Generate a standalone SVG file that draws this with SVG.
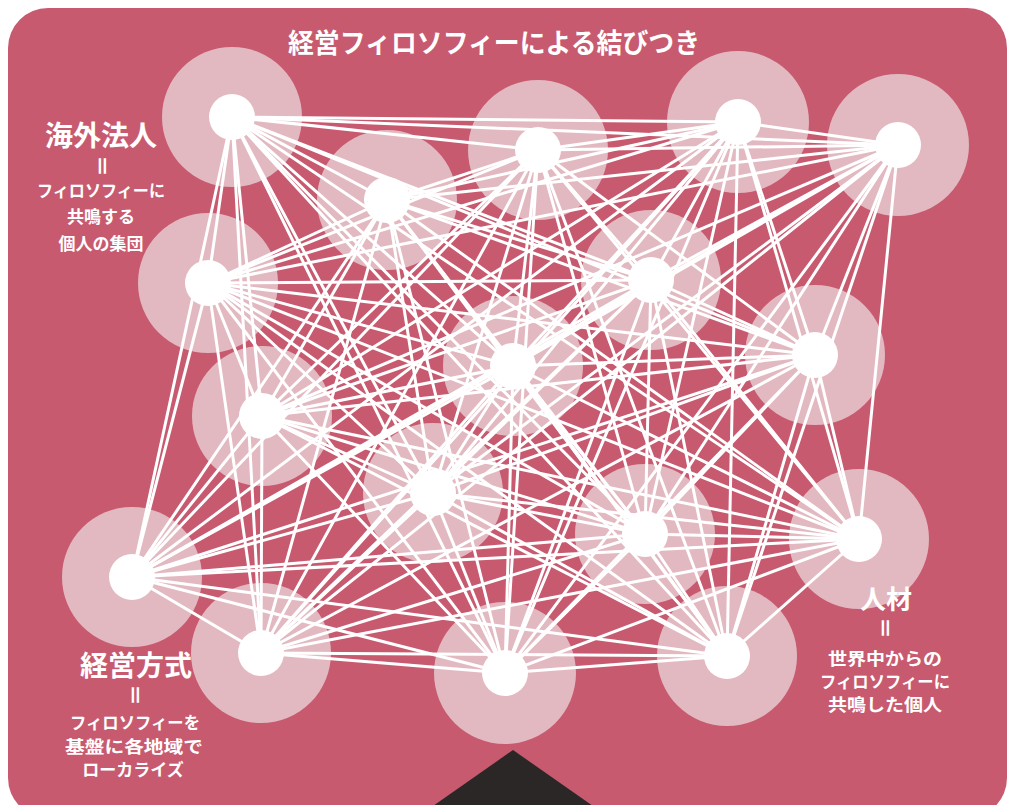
<svg xmlns="http://www.w3.org/2000/svg" width="1015" height="805" viewBox="0 0 1015 805">
<style>
.halo{fill:#e3b9c1}
.dot{fill:#ffffff}
#connectors line{stroke:#ffffff;stroke-width:3;stroke-linecap:round}
.t{fill:#ffffff;font-family:"Noto Sans CJK JP","Noto Sans",sans-serif;text-anchor:middle}
.big{font-size:28px;font-weight:700}
.title{font-size:27px;font-weight:700}
.small{font-size:17px;font-weight:700}
.eq{font-size:22px;font-weight:700}
</style>
<rect x="0" y="0" width="1015" height="805" fill="#ffffff"/>
<rect x="8" y="8" width="999" height="810" rx="40" fill="#c85a70"/>
<g id="halos">
<circle class="halo" cx="232" cy="117" r="70"/>
<circle class="halo" cx="387" cy="200" r="70"/>
<circle class="halo" cx="538" cy="150" r="70"/>
<circle class="halo" cx="738" cy="122" r="71"/>
<circle class="halo" cx="898" cy="145" r="71"/>
<circle class="halo" cx="208" cy="283" r="70"/>
<circle class="halo" cx="651" cy="280" r="70"/>
<circle class="halo" cx="513" cy="366" r="70"/>
<circle class="halo" cx="815" cy="355" r="70"/>
<circle class="halo" cx="262" cy="416" r="70"/>
<circle class="halo" cx="433" cy="493" r="70"/>
<circle class="halo" cx="645" cy="534" r="70"/>
<circle class="halo" cx="859" cy="539" r="70"/>
<circle class="halo" cx="132" cy="577" r="70"/>
<circle class="halo" cx="261" cy="653" r="70"/>
<circle class="halo" cx="505" cy="673" r="71"/>
<circle class="halo" cx="727" cy="656" r="70"/>
</g>
<g id="connectors">
<line x1="232" y1="117" x2="387" y2="200"/><line x1="232" y1="117" x2="538" y2="150"/><line x1="232" y1="117" x2="738" y2="122"/><line x1="232" y1="117" x2="898" y2="145"/><line x1="232" y1="117" x2="208" y2="283"/><line x1="232" y1="117" x2="651" y2="280"/><line x1="232" y1="117" x2="513" y2="366"/><line x1="232" y1="117" x2="815" y2="355"/><line x1="232" y1="117" x2="262" y2="416"/><line x1="232" y1="117" x2="433" y2="493"/><line x1="232" y1="117" x2="645" y2="534"/><line x1="232" y1="117" x2="859" y2="539"/><line x1="232" y1="117" x2="132" y2="577"/><line x1="232" y1="117" x2="261" y2="653"/><line x1="232" y1="117" x2="505" y2="673"/><line x1="232" y1="117" x2="727" y2="656"/>
<line x1="387" y1="200" x2="538" y2="150"/><line x1="387" y1="200" x2="738" y2="122"/><line x1="387" y1="200" x2="898" y2="145"/><line x1="387" y1="200" x2="208" y2="283"/><line x1="387" y1="200" x2="651" y2="280"/><line x1="387" y1="200" x2="513" y2="366"/><line x1="387" y1="200" x2="815" y2="355"/><line x1="387" y1="200" x2="262" y2="416"/><line x1="387" y1="200" x2="433" y2="493"/><line x1="387" y1="200" x2="645" y2="534"/><line x1="387" y1="200" x2="859" y2="539"/><line x1="387" y1="200" x2="132" y2="577"/><line x1="387" y1="200" x2="261" y2="653"/><line x1="387" y1="200" x2="505" y2="673"/><line x1="387" y1="200" x2="727" y2="656"/>
<line x1="538" y1="150" x2="738" y2="122"/><line x1="538" y1="150" x2="898" y2="145"/><line x1="538" y1="150" x2="208" y2="283"/><line x1="538" y1="150" x2="651" y2="280"/><line x1="538" y1="150" x2="513" y2="366"/><line x1="538" y1="150" x2="815" y2="355"/><line x1="538" y1="150" x2="262" y2="416"/><line x1="538" y1="150" x2="433" y2="493"/><line x1="538" y1="150" x2="645" y2="534"/><line x1="538" y1="150" x2="859" y2="539"/><line x1="538" y1="150" x2="132" y2="577"/><line x1="538" y1="150" x2="261" y2="653"/><line x1="538" y1="150" x2="505" y2="673"/><line x1="538" y1="150" x2="727" y2="656"/>
<line x1="738" y1="122" x2="898" y2="145"/><line x1="738" y1="122" x2="208" y2="283"/><line x1="738" y1="122" x2="651" y2="280"/><line x1="738" y1="122" x2="513" y2="366"/><line x1="738" y1="122" x2="815" y2="355"/><line x1="738" y1="122" x2="262" y2="416"/><line x1="738" y1="122" x2="433" y2="493"/><line x1="738" y1="122" x2="645" y2="534"/><line x1="738" y1="122" x2="859" y2="539"/><line x1="738" y1="122" x2="132" y2="577"/><line x1="738" y1="122" x2="261" y2="653"/><line x1="738" y1="122" x2="505" y2="673"/><line x1="738" y1="122" x2="727" y2="656"/>
<line x1="898" y1="145" x2="208" y2="283"/><line x1="898" y1="145" x2="651" y2="280"/><line x1="898" y1="145" x2="513" y2="366"/><line x1="898" y1="145" x2="815" y2="355"/><line x1="898" y1="145" x2="262" y2="416"/><line x1="898" y1="145" x2="433" y2="493"/><line x1="898" y1="145" x2="645" y2="534"/><line x1="898" y1="145" x2="859" y2="539"/><line x1="898" y1="145" x2="132" y2="577"/><line x1="898" y1="145" x2="261" y2="653"/><line x1="898" y1="145" x2="505" y2="673"/><line x1="898" y1="145" x2="727" y2="656"/>
<line x1="208" y1="283" x2="651" y2="280"/><line x1="208" y1="283" x2="513" y2="366"/><line x1="208" y1="283" x2="815" y2="355"/><line x1="208" y1="283" x2="262" y2="416"/><line x1="208" y1="283" x2="433" y2="493"/><line x1="208" y1="283" x2="645" y2="534"/><line x1="208" y1="283" x2="859" y2="539"/><line x1="208" y1="283" x2="132" y2="577"/><line x1="208" y1="283" x2="261" y2="653"/><line x1="208" y1="283" x2="505" y2="673"/><line x1="208" y1="283" x2="727" y2="656"/>
<line x1="651" y1="280" x2="513" y2="366"/><line x1="651" y1="280" x2="815" y2="355"/><line x1="651" y1="280" x2="262" y2="416"/><line x1="651" y1="280" x2="433" y2="493"/><line x1="651" y1="280" x2="645" y2="534"/><line x1="651" y1="280" x2="859" y2="539"/><line x1="651" y1="280" x2="132" y2="577"/><line x1="651" y1="280" x2="261" y2="653"/><line x1="651" y1="280" x2="505" y2="673"/><line x1="651" y1="280" x2="727" y2="656"/>
<line x1="513" y1="366" x2="815" y2="355"/><line x1="513" y1="366" x2="262" y2="416"/><line x1="513" y1="366" x2="433" y2="493"/><line x1="513" y1="366" x2="645" y2="534"/><line x1="513" y1="366" x2="859" y2="539"/><line x1="513" y1="366" x2="132" y2="577"/><line x1="513" y1="366" x2="261" y2="653"/><line x1="513" y1="366" x2="505" y2="673"/><line x1="513" y1="366" x2="727" y2="656"/>
<line x1="815" y1="355" x2="262" y2="416"/><line x1="815" y1="355" x2="433" y2="493"/><line x1="815" y1="355" x2="645" y2="534"/><line x1="815" y1="355" x2="859" y2="539"/><line x1="815" y1="355" x2="132" y2="577"/><line x1="815" y1="355" x2="261" y2="653"/><line x1="815" y1="355" x2="505" y2="673"/><line x1="815" y1="355" x2="727" y2="656"/>
<line x1="262" y1="416" x2="433" y2="493"/><line x1="262" y1="416" x2="645" y2="534"/><line x1="262" y1="416" x2="859" y2="539"/><line x1="262" y1="416" x2="132" y2="577"/><line x1="262" y1="416" x2="261" y2="653"/><line x1="262" y1="416" x2="505" y2="673"/><line x1="262" y1="416" x2="727" y2="656"/>
<line x1="433" y1="493" x2="645" y2="534"/><line x1="433" y1="493" x2="859" y2="539"/><line x1="433" y1="493" x2="132" y2="577"/><line x1="433" y1="493" x2="261" y2="653"/><line x1="433" y1="493" x2="505" y2="673"/><line x1="433" y1="493" x2="727" y2="656"/>
<line x1="645" y1="534" x2="859" y2="539"/><line x1="645" y1="534" x2="132" y2="577"/><line x1="645" y1="534" x2="261" y2="653"/><line x1="645" y1="534" x2="505" y2="673"/><line x1="645" y1="534" x2="727" y2="656"/>
<line x1="859" y1="539" x2="132" y2="577"/><line x1="859" y1="539" x2="261" y2="653"/><line x1="859" y1="539" x2="505" y2="673"/><line x1="859" y1="539" x2="727" y2="656"/>
<line x1="132" y1="577" x2="261" y2="653"/><line x1="132" y1="577" x2="505" y2="673"/><line x1="132" y1="577" x2="727" y2="656"/>
<line x1="261" y1="653" x2="505" y2="673"/><line x1="261" y1="653" x2="727" y2="656"/>
<line x1="505" y1="673" x2="727" y2="656"/>
</g>
<g id="n1"><circle class="dot" cx="232" cy="117" r="23"/></g>
<g id="n2"><circle class="dot" cx="387" cy="200" r="23"/></g>
<g id="n3"><circle class="dot" cx="538" cy="150" r="23"/></g>
<g id="n4"><circle class="dot" cx="738" cy="122" r="23"/></g>
<g id="n5"><circle class="dot" cx="898" cy="145" r="23"/></g>
<g id="n6"><circle class="dot" cx="208" cy="283" r="23"/></g>
<g id="n7"><circle class="dot" cx="651" cy="280" r="23"/></g>
<g id="n8"><circle class="dot" cx="513" cy="366" r="23"/></g>
<g id="n9"><circle class="dot" cx="815" cy="355" r="23"/></g>
<g id="n10"><circle class="dot" cx="262" cy="416" r="23"/></g>
<g id="n11"><circle class="dot" cx="433" cy="493" r="23"/></g>
<g id="n12"><circle class="dot" cx="645" cy="534" r="23"/></g>
<g id="n13"><circle class="dot" cx="859" cy="539" r="23"/></g>
<g id="n14"><circle class="dot" cx="132" cy="577" r="23"/></g>
<g id="n15"><circle class="dot" cx="261" cy="653" r="23"/></g>
<g id="n16"><circle class="dot" cx="505" cy="673" r="23"/></g>
<g id="n17"><circle class="dot" cx="727" cy="656" r="23"/></g>
<polygon points="433,806 513,750 593,806" fill="#2b2727"/>
<g id="labels">
<text class="t title" x="494" y="53" textLength="412" lengthAdjust="spacingAndGlyphs">経営フィロソフィーによる結びつき</text>
<text class="t big" x="101" y="146">海外法人</text>
<text class="t eq" x="0" y="0" transform="translate(102 166) rotate(90)" dy="0.35em">＝</text>
<text class="t small" x="101" y="197" textLength="128" lengthAdjust="spacingAndGlyphs">フィロソフィーに</text>
<text class="t small" x="101" y="223">共鳴する</text>
<text class="t small" x="101" y="250">個人の集団</text>
<text class="t big" x="136" y="676">経営方式</text>
<text class="t eq" x="0" y="0" transform="translate(135 695) rotate(90)" dy="0.35em">＝</text>
<text class="t small" x="135" y="729" textLength="130" lengthAdjust="spacingAndGlyphs">フィロソフィーを</text>
<text class="t small" x="134" y="753" textLength="138" lengthAdjust="spacingAndGlyphs">基盤に各地域で</text>
<text class="t small" x="133" y="776">ローカライズ</text>
<text class="t big" x="886" y="609" style="font-size:26px">人材</text>
<text class="t eq" x="0" y="0" transform="translate(885 628) rotate(90)" dy="0.35em">＝</text>
<text class="t small" x="885" y="665" textLength="114" lengthAdjust="spacingAndGlyphs">世界中からの</text>
<text class="t small" x="885" y="688" textLength="130" lengthAdjust="spacingAndGlyphs">フィロソフィーに</text>
<text class="t small" x="885" y="711" textLength="114" lengthAdjust="spacingAndGlyphs">共鳴した個人</text>
</g>
</svg>
